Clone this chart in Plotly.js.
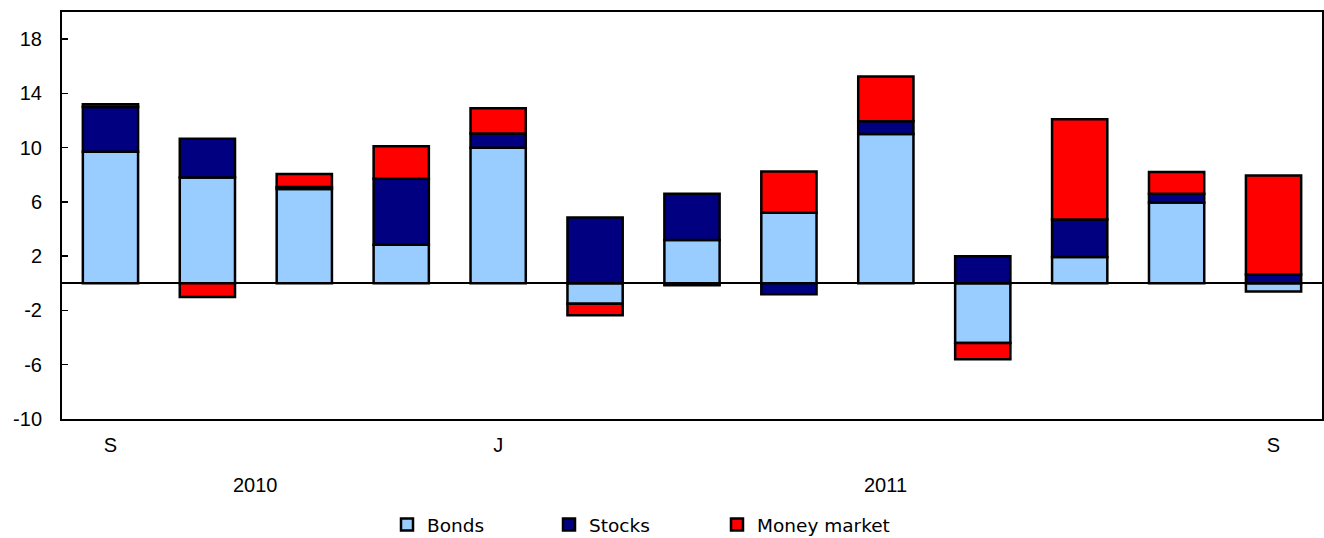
<!DOCTYPE html>
<html>
<head>
<meta charset="utf-8">
<script src="https://cdn.plot.ly/plotly-3.0.1.min.js"></script>
<style>html,body{margin:0;padding:0;background:#fff;}#chart{width:1324px;height:538px;}</style>
</head>
<body>
<div id="chart"></div>
<script>
var months = ["Sep 2010","Oct 2010","Nov 2010","Dec 2010","Jan 2011","Feb 2011","Mar 2011","Apr 2011","May 2011","Jun 2011","Jul 2011","Aug 2011","Sep 2011"];
var bonds  = [9.7, 7.8, 6.95, 2.85, 10.0, -1.5, 3.2, 5.2, 11.0, -4.4, 1.95, 5.95, -0.6];
var stocks = [3.3, 2.85, 0.15, 4.85, 1.05, 4.85, 3.4, -0.8, 0.95, 2.0, 2.75, 0.65, 0.65];
var money  = [0.2, -1.0, 0.95, 2.4, 1.85, -0.85, -0.15, 3.05, 3.3, -1.2, 7.4, 1.6, 7.3];
var tickMonths = ["Sep 2010","Jan 2011","Sep 2011"];
var tickLabels = ["S","J","S"];
var yTickVals = [-10, -6, -2, 2, 6, 10, 14, 18];
var yTickText = ["-10", "-6", "-2", "2", "6", "10", "14", "18"];
var years = ["2010","2011"];
var yearPos = [1.5, 8];

var line = {color:"#000000", width:2.5};
var traces = [
  {type:"bar", name:"Bonds", x:months, y:bonds, legend:"legend", marker:{color:"#99CCFF", line:line}},
  {type:"bar", name:"Stocks", x:months, y:stocks, legend:"legend2", marker:{color:"#000080", line:line}},
  {type:"bar", name:"Money market", x:months, y:money, legend:"legend3", marker:{color:"#FF0000", line:line}}
];
var font = {family:"Liberation Sans, Arial, sans-serif", size:20, color:"#000"};
var legFont = {family:"DejaVu Sans, Verdana, sans-serif", size:18.5, color:"#000"};
function leg(textStart){
  return {orientation:"h", xref:"container", x:(textStart-40)/1324, xanchor:"left",
          yref:"container", y:0.024, yanchor:"middle", font:legFont, itemwidth:30,
          bgcolor:"rgba(0,0,0,0)"};
}
var layout = {
  width:1324, height:538,
  margin:{l:62, r:2, t:12, b:119},
  paper_bgcolor:"#fff", plot_bgcolor:"#fff",
  barmode:"relative", bargap:0.43,
  font:font,
  showlegend:true,
  legend:leg(427), legend2:leg(589), legend3:leg(757),
  xaxis:{type:"category", range:[-0.5,12.5], showline:true, linecolor:"#000", linewidth:2, mirror:true,
         ticks:"", tickmode:"array", tickvals:tickMonths, ticktext:tickLabels, ticklabelstandoff:7,
         tickfont:font, showgrid:false, zeroline:false, fixedrange:true},
  yaxis:{range:[-10,20], tickmode:"array", tickvals:yTickVals, ticktext:yTickText, ticks:"inside", ticklen:6, tickwidth:1.5,
         tickcolor:"#000", showline:true, linecolor:"#000", linewidth:2, mirror:true, ticklabelstandoff:14,
         showgrid:false, zeroline:true, zerolinecolor:"#000", zerolinewidth:2,
         tickfont:font, fixedrange:true},
  annotations: years.map(function(t,i){return {text:t, x:yearPos[i], xref:"x", y:-0.162, yref:"paper",
         yanchor:"middle", showarrow:false, font:font};})
};
Plotly.newPlot("chart", traces, layout, {staticPlot:true, displayModeBar:false});
</script>
</body>
</html>
